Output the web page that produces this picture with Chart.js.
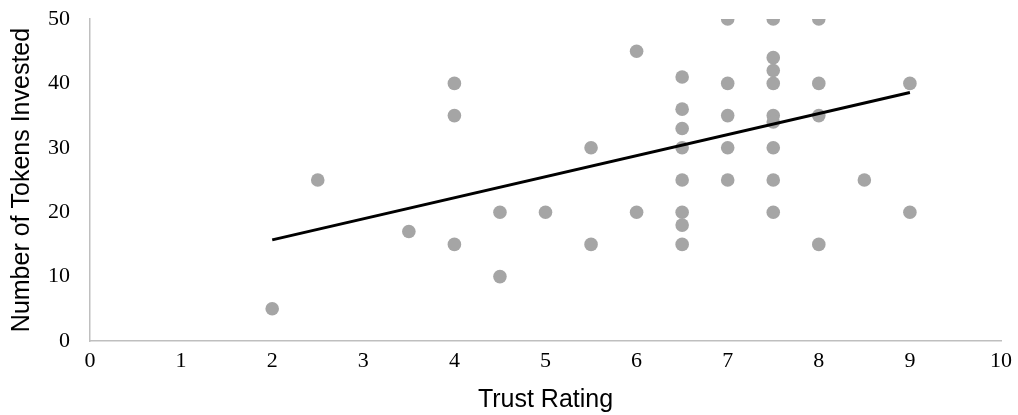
<!DOCTYPE html>
<html>
<head>
<meta charset="utf-8">
<script src="https://cdn.jsdelivr.net/npm/chart.js@4"></script>
<style>
  html, body { margin: 0; padding: 0; background: #fff; }
  #wrap { width: 1018px; height: 415px; }
</style>
</head>
<body>
<div id="wrap"><canvas id="chart"></canvas></div>
<script>
// trust rating (x) and tokens invested (y)
const trustRatings = [2, 2.5, 3.5, 4, 4, 4, 4.5, 4.5, 5, 5.5, 5.5, 6, 6,
  6.5, 6.5, 6.5, 6.5, 6.5, 6.5, 6.5, 6.5,
  7, 7, 7, 7, 7,
  7.5, 7.5, 7.5, 7.5, 7.5, 7.5, 7.5, 7.5, 7.5,
  8, 8, 8, 8, 8.5, 9, 9];
const tokensInvested = [5, 25, 17, 40, 35, 15, 20, 10, 20, 30, 15, 45, 20,
  41, 36, 33, 30, 25, 20, 18, 15,
  50, 40, 35, 30, 25,
  50, 44, 42, 40, 35, 34, 30, 25, 20,
  50, 40, 35, 15, 25, 40, 20];
// linear trendline end points
const trendX = [2, 9];
const trendY = [15.7, 38.6];

const xTicks = [0, 1, 2, 3, 4, 5, 6, 7, 8, 9, 10];
const yTicks = [0, 10, 20, 30, 40, 50];

const points = trustRatings.map((x, i) => ({ x: x, y: tokensInvested[i] }));
const trend = trendX.map((x, i) => ({ x: x, y: trendY[i] }));

const tickFont = { family: '"Liberation Serif", "Times New Roman", serif', size: 22 };
const titleFont = { family: '"Liberation Sans", Arial, sans-serif', size: 25 };

new Chart(document.getElementById('chart'), {
  type: 'scatter',
  data: {
    datasets: [
      {
        type: 'line',
        label: 'Trend',
        data: trend,
        borderColor: '#000',
        borderWidth: 3,
        pointRadius: 0,
        fill: false,
        order: 0
      },
      {
        label: 'Tokens',
        data: points,
        backgroundColor: '#a5a5a5',
        borderColor: '#a5a5a5',
        borderWidth: 0,
        pointRadius: 6.8,
        order: 1
      }
    ]
  },
  options: {
    responsive: true,
    maintainAspectRatio: false,
    animation: false,
    layout: { autoPadding: false, padding: { top: 19, right: 17, left: 7, bottom: 0 } },
    plugins: {
      legend: { display: false },
      tooltip: { enabled: false }
    },
    scales: {
      x: {
        type: 'linear',
        min: 0,
        max: 10,
        afterBuildTicks: (axis) => { axis.ticks = xTicks.map(v => ({ value: v })); },
        afterFit: (axis) => { axis.height = 74; axis.paddingLeft = 0; axis.paddingRight = 0; },
        ticks: { color: '#000', font: tickFont, padding: 7 },
        grid: { display: false, drawTicks: false },
        border: { display: true, color: '#bfbfbf', width: 1.5 },
        title: { display: true, text: 'Trust Rating', color: '#000', font: titleFont, padding: { top: 8, bottom: 0 } }
      },
      y: {
        min: 0,
        max: 50,
        afterBuildTicks: (axis) => { axis.ticks = yTicks.map(v => ({ value: v })); },
        afterFit: (axis) => { axis.width = 83; axis.paddingTop = 0; axis.paddingBottom = 0; },
        ticks: { color: '#000', font: tickFont, padding: 20 },
        grid: { display: false, drawTicks: false },
        border: { display: true, color: '#bfbfbf', width: 1.5 },
        title: { display: true, text: 'Number of Tokens Invested', color: '#000', font: titleFont, padding: { top: 0, bottom: 0 } }
      }
    }
  }
});
</script>
</body>
</html>
